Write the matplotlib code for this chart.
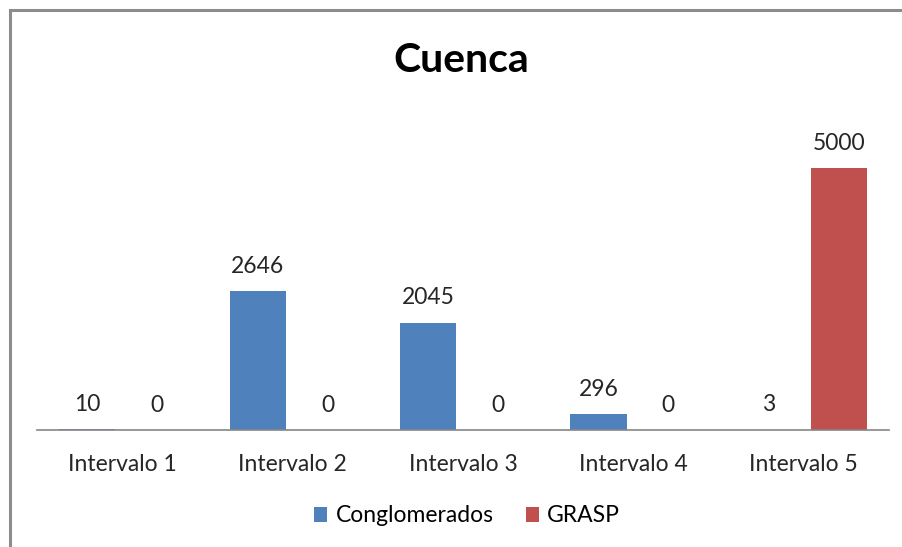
import numpy as np
import matplotlib.pyplot as plt
from matplotlib.patches import Rectangle

# Data
categories = ['Intervalo 1', 'Intervalo 2', 'Intervalo 3', 'Intervalo 4', 'Intervalo 5']
conglomerados = [10, 2646, 2045, 296, 3]
grasp = [0, 0, 0, 0, 5000]
series_names = ['Conglomerados', 'GRASP']
colors = ['#4F81BD', '#C0504D']

plt.rcParams['font.family'] = ['Lato', 'DejaVu Sans']

W, H = 903, 547
fig = plt.figure(figsize=(W / 100, H / 100), dpi=100)

# outer chart border (cropped on the right and bottom)
fig.patches.append(Rectangle((10 / W, -0.2), 1.2, 1.2 - 10 / H,
                             transform=fig.transFigure, fill=False,
                             edgecolor='#8C8C8C', linewidth=2.2))

ax = fig.add_axes([37 / W, 1 - 430 / H, (889 - 37) / W, (430 - 100) / H])

x = np.arange(len(categories))
bw = 0.33
off = 0.205
b1 = ax.bar(x - off, conglomerados, bw, color=colors[0], label=series_names[0])
b2 = ax.bar(x + off, grasp, bw, color=colors[1], label=series_names[1])

for bars, vals in [(b1, conglomerados), (b2, grasp)]:
    for rect, v in zip(bars, vals):
        ax.annotate(str(v), (rect.get_x() + rect.get_width() / 2, v),
                    xytext=(0, 18), textcoords='offset points',
                    ha='center', va='center', fontsize=16.5, color='#262626')

ax.set_xlim(-0.5, len(categories) - 0.5)
ax.set_ylim(0, 5000 * 330 / 262)
ax.set_xticks(x)
ax.set_xticklabels(categories, fontsize=16.5, color='#262626')
ax.tick_params(axis='x', length=0, pad=17)
ax.set_yticks([])
for s in ['top', 'right', 'left']:
    ax.spines[s].set_visible(False)
ax.spines['bottom'].set_color('#868686')
ax.spines['bottom'].set_linewidth(1.2)

fig.text(461 / W, 1 - 60 / H, 'Cuenca', ha='center', va='center',
         fontsize=29.5, fontweight='bold', color='black')

fig.legend(handles=[b1, b2], labels=series_names, loc='center',
           bbox_to_anchor=(467 / W, 1 - 516 / H), ncol=2, frameon=False,
           fontsize=16.5, handlelength=0.6, handleheight=0.6,
           handletextpad=0.35, columnspacing=1.4)

fig.savefig('out.png', dpi=100)
